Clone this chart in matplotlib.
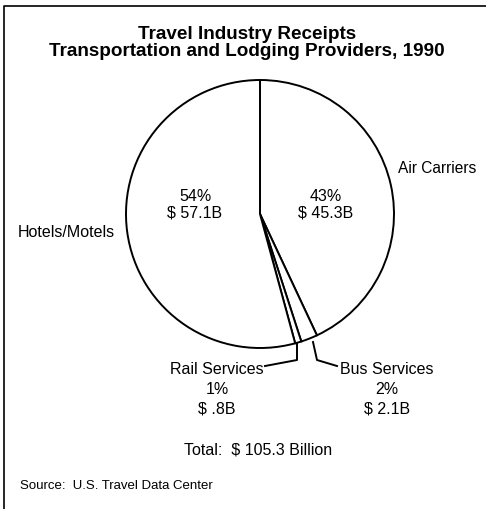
import matplotlib
matplotlib.use('Agg')
import matplotlib.pyplot as plt

# Data: travel industry receipts 1990 (billions of dollars)
categories = ['Air Carriers', 'Bus Services', 'Rail Services', 'Hotels/Motels']
receipts = [45.3, 2.1, 0.8, 57.1]
percents = ['43%', '2%', '1%', '54%']
amounts = ['$ 45.3B', '$ 2.1B', '$ .8B', '$ 57.1B']
total_label = 'Total:  $ 105.3 Billion'

plt.rcParams['font.family'] = ['Liberation Sans', 'DejaVu Sans']

W, H = 486, 509
fig = plt.figure(figsize=(W / 100, H / 100), dpi=100)
ax = fig.add_axes([0, 0, 1, 1])

def Y(y):
    # pixel row (from top) -> data y
    return H - y

cx, cy, r = 260, 214, 134
ax.pie(receipts, center=(cx, Y(cy)), radius=r, startangle=90, counterclock=False,
       colors=['white'] * 4, wedgeprops=dict(edgecolor='black', linewidth=1.4))
ax.set_xlim(0, W)
ax.set_ylim(0, H)
ax.set_aspect('equal')
ax.axis('off')

# frame
ax.plot([4, 4, W], [0, Y(6), Y(6)], color='black', lw=1.2)

# title
ax.text(247, Y(43), 'Travel Industry Receipts\nTransportation and Lodging Providers, 1990',
        ha='center', va='center', fontsize=13.6, fontweight='bold', linespacing=1.05)

fs = 11.5
# inside labels
ax.text(195, Y(205), f'{percents[3]}\n{amounts[3]}', ha='center', va='center', fontsize=fs, linespacing=1.15)
ax.text(326, Y(205), f'{percents[0]}\n{amounts[0]}', ha='center', va='center', fontsize=fs, linespacing=1.15)

# outside labels
ax.text(398, Y(168), categories[0], ha='left', va='center', fontsize=11.2)
ax.text(18, Y(232), categories[3], ha='left', va='center', fontsize=fs)
ax.text(217, Y(389), f'{categories[2]}\n{percents[2]}\n{amounts[2]}',
        ha='center', va='center', fontsize=fs, linespacing=1.4)
ax.text(387, Y(389), f'{categories[1]}\n{percents[1]}\n{amounts[1]}',
        ha='center', va='center', fontsize=fs, linespacing=1.4)

# leader lines
ax.plot([297, 297, 265], [Y(344), Y(360), Y(366)], color='black', lw=1.4)
ax.plot([313, 317, 337], [Y(342), Y(360), Y(366)], color='black', lw=1.4)

ax.text(258, Y(450), total_label, ha='center', va='center', fontsize=fs)
ax.text(20, Y(486), 'Source:  U.S. Travel Data Center', ha='left', va='center', fontsize=9.5)

fig.savefig('out.png', dpi=100)
plt.close(fig)
